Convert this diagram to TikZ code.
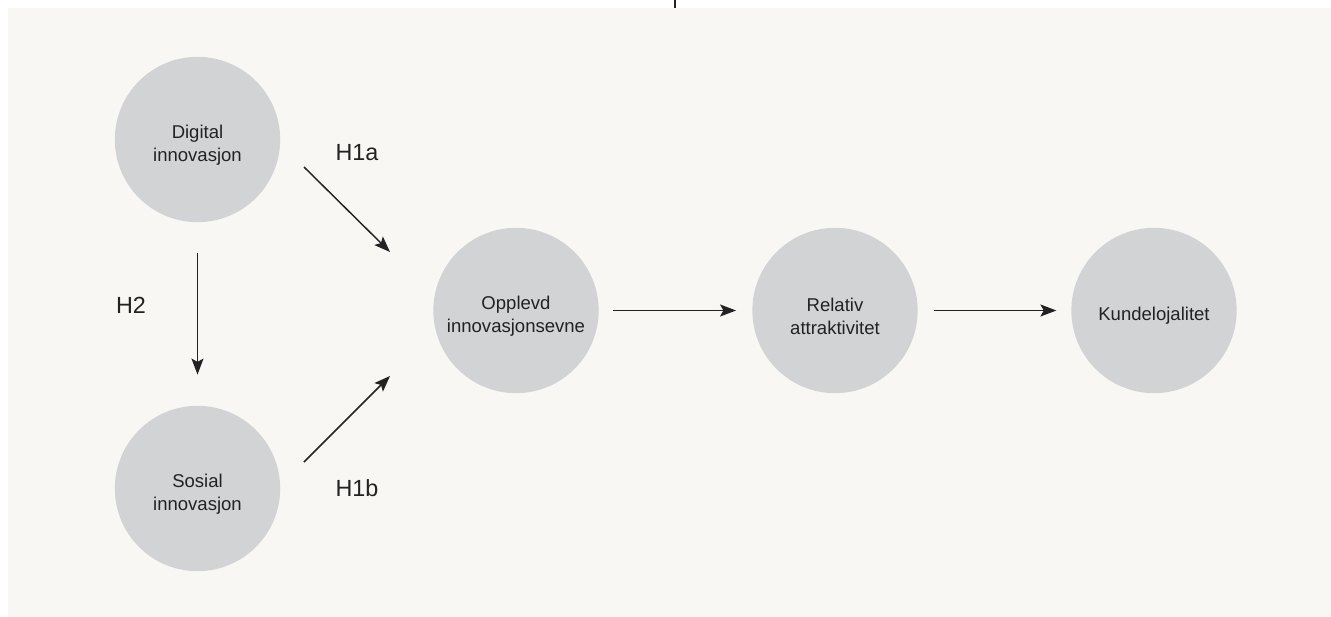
\documentclass[tikz,border=0pt]{standalone}
\usepackage{fontspec}
\setmainfont{Liberation Sans}
\usetikzlibrary{arrows.meta}
\definecolor{bg}{RGB}{248,247,243}
\definecolor{circ}{RGB}{209,211,213}
\definecolor{ink}{RGB}{34,34,34}
\begin{document}
\begin{tikzpicture}[x=0.75pt,y=-0.75pt,
  construct/.style={circle,fill=circ,draw=none,minimum size=124pt,inner sep=0pt},
  ctext/.style={align=center,text=ink,inner sep=0pt,yshift=-4.2pt,
    font=\fontsize{13.9}{17.25}\selectfont},
  hlabel/.style={text=ink,font=\fontsize{17.5}{20}\selectfont,inner sep=0pt},
  link/.style={draw=ink,line width=1.1pt,-{Stealth[length=12pt,width=9pt,inset=2.5pt]}}]
\useasboundingbox (0,0) rectangle (1331,617);
\fill[white] (0,0) rectangle (1331,617);
\fill[bg] (8,8) rectangle (1331,617);
\coordinate (tickA) at (675,0);
\coordinate (tickB) at (675,8);
\draw[ink,line width=0.9pt] (tickA) -- (tickB);

\node[construct] (dig) at (197.5,139.5) {};
\node[construct] (sos) at (197.5,488.5) {};
\node[construct] (opp) at (516,310.5) {};
\node[construct] (rel) at (835,310.5) {};
\node[construct] (kun) at (1154,310.5) {};
\node[ctext] (digT) at (dig) {Digital\\innovasjon};
\node[ctext] (sosT) at (sos) {Sosial\\innovasjon};
\node[ctext] (oppT) at (opp) {Opplevd\\innovasjonsevne};
\node[ctext] (relT) at (rel) {Relativ\\attraktivitet};
\node[ctext] (kunT) at (kun) {Kundelojalitet};

\node[hlabel] (h1a) at (357,153) {H1a};
\node[hlabel] (h1b) at (357,488) {H1b};
\node[hlabel] (h2) at (131,305) {H2};

\coordinate (h1aS) at (304,167);
\coordinate (h1aE) at (390,252);
\coordinate (h1bS) at (304,462);
\coordinate (h1bE) at (390,376);

\draw[link] (h1aS) -- (h1aE);
\draw[link] (h1bS) -- (h1bE);
\draw[link,shorten <=23.25pt,shorten >=23.25pt] (dig.south) -- (sos.north);
\draw[link,shorten <=10.5pt,shorten >=12pt] (opp.east) -- (rel.west);
\draw[link,shorten <=12pt,shorten >=11pt] (rel.east) -- (kun.west);
\end{tikzpicture}
\end{document}
